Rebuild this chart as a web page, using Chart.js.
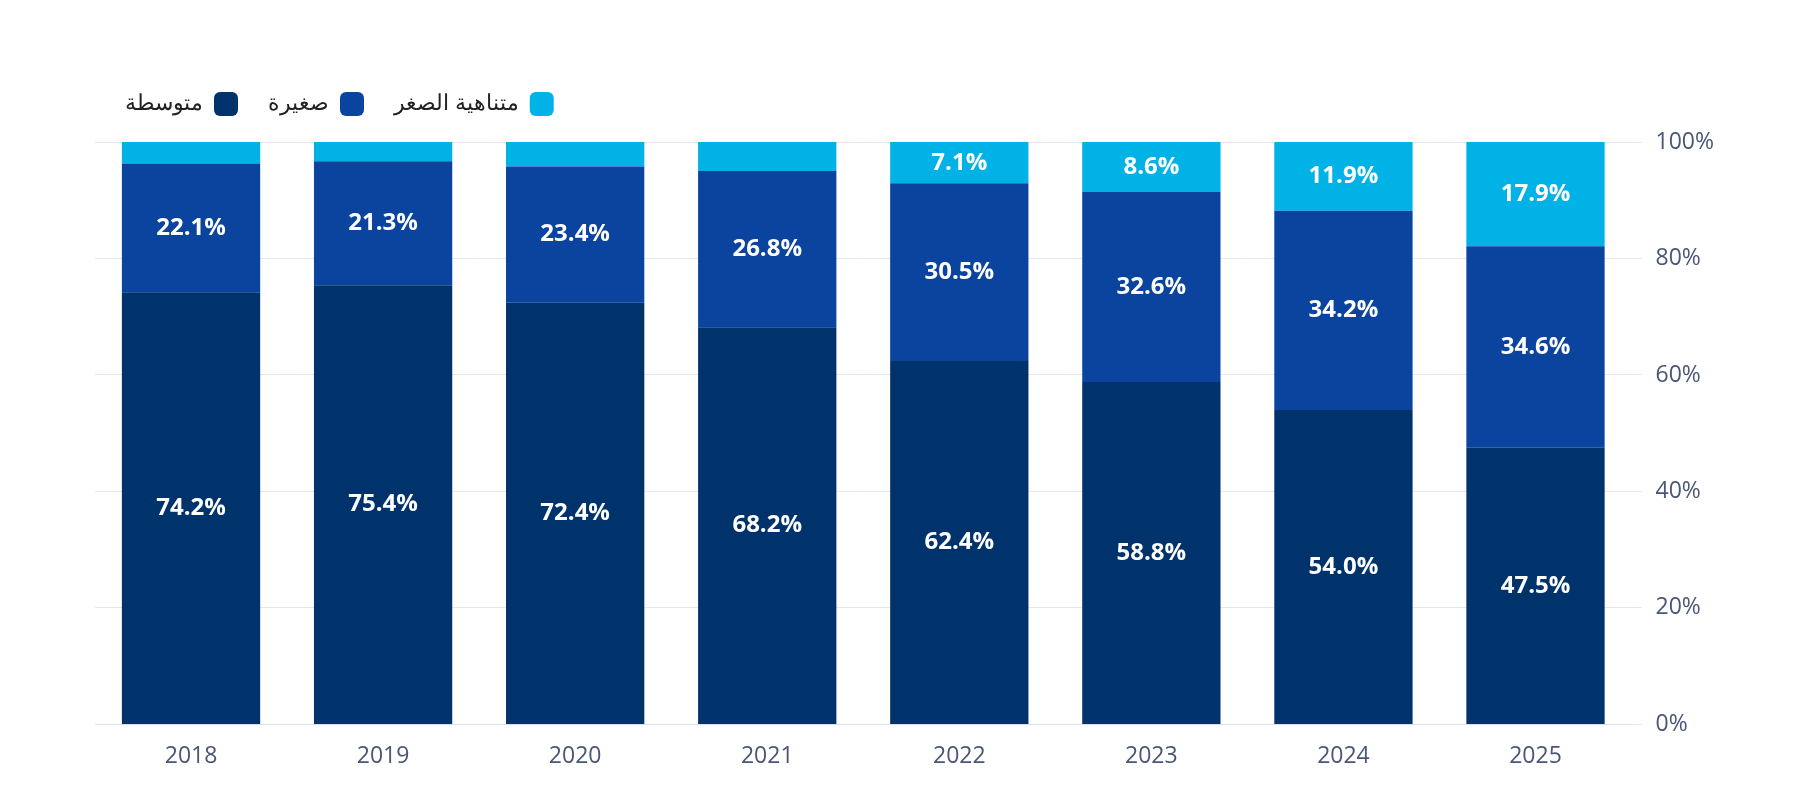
<!DOCTYPE html>
<html><head><meta charset="utf-8">
<script src="https://cdn.jsdelivr.net/npm/chart.js@4"></script>
<style>html,body{margin:0;background:#fff}#w{width:1820px;height:800px}</style>
</head><body><div id="w"><canvas id="c"></canvas></div>
<script>
const years=['2018','2019','2020','2021','2022','2023','2024','2025'];
const medium=[74.2,75.4,72.4,68.2,62.4,58.8,54.0,47.5];
const small=[22.1,21.3,23.4,26.8,30.5,32.6,34.2,34.6];
const micro=[3.7,3.3,4.2,5.0,7.1,8.6,11.9,17.9];
const names=['متوسطة','صغيرة','متناهية الصغر'];
const labelsPlugin={id:'lbl',afterDatasetsDraw(ch){const c=ch.ctx;c.save();c.fillStyle='#fff';c.font='bold 24px "Open Sans", sans-serif';c.textAlign='center';c.textBaseline='middle';
ch.data.datasets.forEach((ds,i)=>{ch.getDatasetMeta(i).data.forEach((b,j)=>{const v=ds.data[j];if(v<7)return;c.fillText(v.toFixed(1)+'%',b.x,(b.y+b.base)/2);});});c.restore();}};
const legendGap={id:'lg',beforeInit(ch){const f=ch.legend.fit;ch.legend.fit=function(){f.bind(ch.legend)();this.height+=16;};}};
new Chart(document.getElementById('c'),{type:'bar',
data:{labels:years,datasets:[
{label:names[0],data:medium,backgroundColor:'#00336b'},
{label:names[1],data:small,backgroundColor:'#0a449e'},
{label:names[2],data:micro,backgroundColor:'#00b2e5'}]},
options:{responsive:true,maintainAspectRatio:false,animation:false,
layout:{padding:{left:95,right:92,top:62,bottom:20}},
datasets:{bar:{categoryPercentage:1,barPercentage:0.72,borderWidth:0}},
plugins:{tooltip:{enabled:false},legend:{position:'top',align:'end',rtl:true,reverse:true,
labels:{font:{size:22,family:'"Noto Sans", sans-serif'},color:'#222',boxWidth:24,boxHeight:24,useBorderRadius:true,borderRadius:6,padding:30}}},
scales:{x:{stacked:true,grid:{display:false},border:{color:'#dde0ea'},ticks:{color:'#4a5675',font:{size:23,family:'"Open Sans"'},padding:10}},
y:{stacked:true,position:'right',min:0,max:100,ticks:{stepSize:20,callback:v=>v+'%',color:'#4a5675',font:{size:23,family:'"Open Sans"'},padding:14},
grid:{color:'#e4e7f0',drawTicks:true,tickLength:10},border:{display:false}}}},
plugins:[labelsPlugin,legendGap]});
</script></body></html>
